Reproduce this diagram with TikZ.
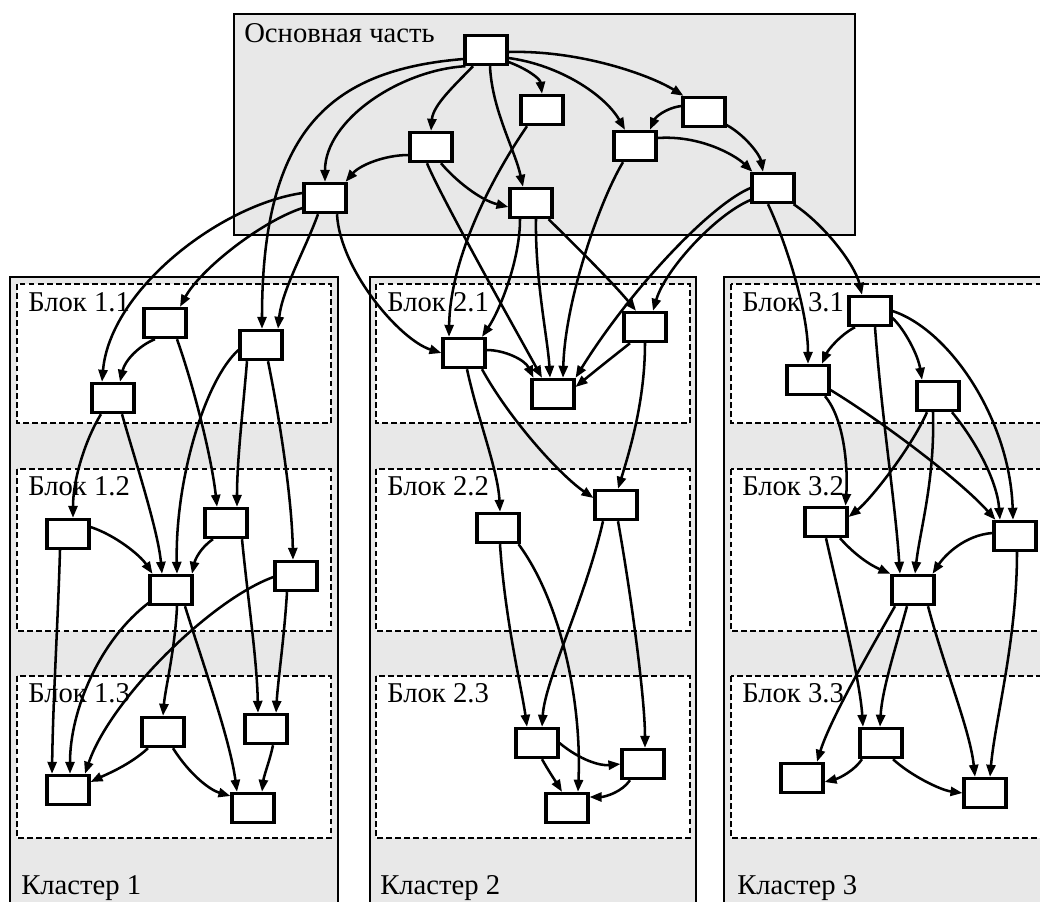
\documentclass[tikz,border=0pt]{standalone}
\usepackage{fontspec}
\setmainfont{Liberation Serif}
\usetikzlibrary{arrows.meta,calc}

\definecolor{panel}{HTML}{E8E8E8}

\begin{document}
\begin{tikzpicture}[x=0.75pt,y=-0.75pt,
  box/.style={draw, fill=white, line width=2.3pt, minimum width=31.5pt,
    minimum height=22pt, inner sep=0pt, outer sep=1.15pt},
  frame/.style={draw, fill=panel, line width=2.2pt},
  block/.style={draw, fill=white, line width=1.8pt, dash pattern=on 4.4pt off 2.4pt},
  lbl/.style={inner sep=0pt, anchor=base west, font=\fontsize{21.5}{24}\selectfont},
  arr/.style={line width=1.9pt, -{Triangle[length=9pt,width=6.8pt]}}]

\useasboundingbox (0,0) rectangle (1040,901);
\clip (0,0) rectangle (1040,901);

% ---- panels ----
\path[frame] (234,14) rectangle (855,235);
\node[lbl] (tMain) at (244,42) {Основная часть};

\path[frame] (10,277) rectangle (338,920);
\path[frame] (370,277) rectangle (696,920);
\path[frame] (724,277) rectangle (1060,920);

\foreach \xl/\xr/\xt/\c in {17/331/28/1, 376/690/387/2, 731/1060/742/3}{
  \path[block] (\xl,284) rectangle (\xr,423);
  \path[block] (\xl,469) rectangle (\xr,631);
  \path[block] (\xl,676) rectangle (\xr,838);
  \node[lbl] at (\xt,311) {Блок \c.1};
  \node[lbl] at (\xt,495) {Блок \c.2};
  \node[lbl] at (\xt,702) {Блок \c.3};
}
\node[lbl] (k1) at (21,894) {Кластер 1};
\node[lbl] (k2) at (380,894) {Кластер 2};
\node[lbl] (k3) at (737,894) {Кластер 3};

% ---- main part nodes ----
\node[box] (M0) at (486,50) {};
\node[box] (M1) at (542,110) {};
\node[box] (M2) at (431,147) {};
\node[box] (M3) at (325,198) {};
\node[box] (M4) at (531,203) {};
\node[box] (M5) at (635,146) {};
\node[box] (M6) at (704,112) {};
\node[box] (M7) at (773,188) {};

% ---- cluster 1 nodes ----
\node[box] (A1) at (165,323) {};
\node[box] (A2) at (261,345) {};
\node[box] (A3) at (113,398) {};
\node[box] (A4) at (68,534) {};
\node[box] (A5) at (226,523) {};
\node[box] (A6) at (171,590) {};
\node[box] (A7) at (296,576) {};
\node[box] (A8) at (163,732) {};
\node[box] (A9) at (266,729) {};
\node[box] (A10) at (68,790) {};
\node[box] (A11) at (253,808) {};

% ---- cluster 2 nodes ----
\node[box] (B1) at (464,353) {};
\node[box] (B2) at (553,394) {};
\node[box] (B3) at (645,327) {};
\node[box] (B4) at (498,528) {};
\node[box] (B5) at (616,505) {};
\node[box] (B6) at (537,743) {};
\node[box] (B7) at (643,764) {};
\node[box] (B8) at (567,808) {};

% ---- cluster 3 nodes ----
\node[box] (C1) at (870,311) {};
\node[box] (C2) at (808,380) {};
\node[box] (C3) at (938,396) {};
\node[box] (C4) at (826,522) {};
\node[box] (C5) at (1015,536) {};
\node[box] (C6) at (913,590) {};
\node[box] (C7) at (881,743) {};
\node[box] (C8) at (802,778) {};
\node[box] (C9) at (985,793) {};

% ---- edges inside the main part ----
\draw[arr] ($(M0.south west)+(2,0)$) .. controls (400,70) and (325,120) .. (M3.north);
\draw[arr] ($(M0.west)+(0,9)$) .. controls (330,70) and (262,130) .. ($(A2.north)+(1,0)$);
\draw[arr] ($(M0.south)+(-13,0)$) .. controls (455,85) and (433,105) .. (M2.north);
\draw[arr] ($(M0.east)+(0,12)$) .. controls (525,68) and (540,78) .. (M1.north);
\draw[arr] ($(M0.south)+(4,0)$) .. controls (492,110) and (515,150) .. ($(M4.north)+(-8,0)$);
\draw[arr] ($(M0.east)+(0,8)$) .. controls (560,65) and (605,95) .. ($(M5.north)+(-10,0)$);
\draw[arr] ($(M0.east)+(0,2)$) .. controls (580,50) and (650,75) .. ($(M6.north west)+(2,0)$);
\draw[arr] ($(M6.west)+(0,-6)$) .. controls (665,108) and (655,118) .. ($(M5.north)+(15,0)$);
\draw[arr] ($(M6.east)+(0,13)$) .. controls (745,135) and (760,155) .. ($(M7.north)+(-10,0)$);
\draw[arr] ($(M5.east)+(0,-8)$) .. controls (700,135) and (735,155) .. ($(M7.north west)+(2,0)$);
\draw[arr] ($(M2.west)+(0,8)$) .. controls (385,155) and (360,165) .. ($(M3.north east)+(-2,0)$);
\draw[arr] ($(M2.south)+(10,0)$) .. controls (455,180) and (480,200) .. ($(M4.west)+(0,4)$);

% ---- edges leaving the main part ----
\draw[arr] ($(M1.south)+(-15,0)$) .. controls (490,180) and (450,260) .. ($(B1.north)+(-15,0)$);
\draw[arr] ($(M2.south)+(-4,0)$) .. controls (440,195) and (510,320) .. ($(B2.north)+(-11,0)$);
\draw[arr] ($(M4.south)+(-11,0)$) .. controls (520,260) and (500,310) .. ($(B1.north)+(18,0)$);
\draw[arr] ($(M4.south)+(5,0)$) .. controls (535,280) and (548,340) .. ($(B2.north)+(-3,0)$);
\draw[arr] ($(M4.south east)+(-5,0)$) .. controls (575,245) and (615,285) .. ($(B3.north)+(-9,0)$);
\draw[arr] ($(M5.south)+(-12,0)$) .. controls (600,200) and (565,300) .. ($(B2.north)+(10,0)$);
\draw[arr] (M7.west) .. controls (710,205) and (630,290) .. (B2.north east);
\draw[arr] ($(M7.west)+(0,12)$) .. controls (715,215) and (665,270) .. ($(B3.north)+(8,0)$);
\draw[arr] ($(M7.south)+(-5,0)$) .. controls (785,240) and (808,310) .. (C2.north);
\draw[arr] ($(M7.south east)+(-2,0)$) .. controls (825,225) and (855,265) .. ($(C1.north)+(-8,0)$);
\draw[arr] ($(M3.west)+(0,-5)$) .. controls (220,205) and (110,290) .. ($(A3.north)+(-11,0)$);
\draw[arr] ($(M3.south)+(-7,0)$) .. controls (305,250) and (282,290) .. ($(A2.north)+(17,0)$);
\draw[arr] ($(M3.west)+(0,10)$) .. controls (260,222) and (200,270) .. ($(A1.north)+(15,0)$);
\draw[arr] ($(M3.south)+(12,0)$) .. controls (340,270) and (400,340) .. (B1.west);

% ---- cluster 1 edges ----
\draw[arr] ($(A1.south)+(-10,0)$) .. controls (140,345) and (125,360) .. ($(A3.north)+(7,0)$);
\draw[arr] ($(A1.south)+(12,0)$) .. controls (195,390) and (212,460) .. ($(A5.north)+(-9,0)$);
\draw[arr] ($(A2.west)+(0,5)$) .. controls (205,380) and (175,480) .. ($(A6.north)+(6,0)$);
\draw[arr] ($(A2.south)+(-14,0)$) .. controls (243,410) and (237,460) .. ($(A5.north)+(11,0)$);
\draw[arr] ($(A2.south)+(7,0)$) .. controls (280,420) and (292,500) .. ($(A7.north)+(-3,0)$);
\draw[arr] ($(A3.south)+(-12,0)$) .. controls (85,440) and (73,480) .. ($(A4.north)+(5,0)$);
\draw[arr] ($(A3.south)+(9,0)$) .. controls (135,460) and (158,530) .. ($(A6.north)+(-9,0)$);
\draw[arr] ($(A4.east)+(0,-7)$) .. controls (115,535) and (140,555) .. ($(A6.north west)+(4,0)$);
\draw[arr] ($(A5.south)+(-13,0)$) .. controls (200,548) and (195,560) .. ($(A6.north)+(21,0)$);
\draw[arr] ($(A4.south)+(-8,0)$) .. controls (58,620) and (53,700) .. ($(A10.north)+(-16,0)$);
\draw[arr] ($(A5.south)+(16,0)$) .. controls (248,600) and (257,660) .. ($(A9.north)+(-8,0)$);
\draw[arr] ($(A7.south)+(-9,0)$) .. controls (284,640) and (278,680) .. ($(A9.north)+(10,0)$);
\draw[arr] ($(A7.west)+(0,1)$) .. controls (210,600) and (110,700) .. ($(A10.north)+(17,0)$);
\draw[arr] ($(A6.west)+(0,13)$) .. controls (100,640) and (70,710) .. ($(A10.north)+(2,0)$);
\draw[arr] ($(A6.south)+(6,0)$) .. controls (175,650) and (165,690) .. (A8.north);
\draw[arr] ($(A6.south)+(14,0)$) .. controls (205,670) and (230,740) .. ($(A11.north)+(-16,0)$);
\draw[arr] ($(A8.south)+(-15,0)$) .. controls (130,765) and (105,775) .. ($(A10.east)+(0,-8)$);
\draw[arr] ($(A8.south)+(10,0)$) .. controls (190,775) and (210,790) .. ($(A11.west)+(0,-12)$);
\draw[arr] ($(A9.south)+(7,0)$) .. controls (270,760) and (264,775) .. ($(A11.north)+(9,0)$);

% ---- cluster 2 edges ----
\draw[arr] ($(B1.east)+(0,-3)$) .. controls (505,350) and (525,360) .. ($(B2.north west)+(3,0)$);
\draw[arr] ($(B3.south)+(-15,0)$) .. controls (615,355) and (590,375) .. ($(B2.east)+(0,-7)$);
\draw[arr] ($(B1.south)+(3,0)$) .. controls (478,420) and (498,470) .. ($(B4.north)+(2,0)$);
\draw[arr] ($(B1.south)+(18,0)$) .. controls (510,420) and (560,475) .. ($(B5.west)+(0,-7)$);
\draw[arr] (B3.south) .. controls (645,400) and (630,450) .. ($(B5.north)+(2,0)$);
\draw[arr] ($(B4.south)+(2,0)$) .. controls (505,620) and (522,690) .. ($(B6.north)+(-10,0)$);
\draw[arr] ($(B4.south east)+(-2,0)$) .. controls (560,600) and (582,700) .. ($(B8.north)+(11,0)$);
\draw[arr] ($(B5.south)+(-13,0)$) .. controls (585,600) and (545,680) .. ($(B6.north)+(5,0)$);
\draw[arr] ($(B5.south)+(2,0)$) .. controls (632,600) and (645,700) .. ($(B7.north)+(2,0)$);
\draw[arr] (B6.east) .. controls (580,760) and (600,766) .. (B7.west);
\draw[arr] ($(B6.south)+(5,0)$) .. controls (548,770) and (556,782) .. ($(B8.north)+(-5,0)$);
\draw[arr] ($(B7.south)+(-13,0)$) .. controls (622,792) and (605,797) .. ($(B8.east)+(0,-11)$);

% ---- cluster 3 edges ----
\draw[arr] ($(C1.south)+(-15,0)$) .. controls (840,335) and (828,350) .. ($(C2.north)+(14,0)$);
\draw[arr] ($(C1.east)+(0,7)$) .. controls (905,330) and (918,355) .. ($(C3.north)+(-16,0)$);
\draw[arr] (C1.east) .. controls (950,330) and (1010,420) .. ($(C5.north)+(-2,0)$);
\draw[arr] ($(C1.south)+(5,0)$) .. controls (882,420) and (895,500) .. ($(C6.north)+(-13,0)$);
\draw[arr] ($(C2.south)+(17,0)$) .. controls (845,420) and (848,470) .. ($(C4.north east)+(-3,0)$);
\draw[arr] ($(C2.east)+(0,10)$) .. controls (880,420) and (960,480) .. ($(C5.north west)+(3,0)$);
\draw[arr] ($(C3.south)+(-11,0)$) .. controls (910,450) and (870,500) .. ($(C4.east)+(0,-5)$);
\draw[arr] ($(C3.south)+(-5,0)$) .. controls (935,480) and (920,530) .. ($(C6.north)+(2,0)$);
\draw[arr] ($(C3.south)+(14,0)$) .. controls (975,440) and (997,480) .. ($(C5.north)+(-15,0)$);
\draw[arr] ($(C4.south)+(14,0)$) .. controls (855,555) and (870,565) .. (C6.north west);
\draw[arr] ($(C5.west)+(0,-3)$) .. controls (965,535) and (945,555) .. ($(C6.north east)+(-3,0)$);
\draw[arr] (C4.south) .. controls (840,600) and (860,680) .. ($(C7.north)+(-18,0)$);
\draw[arr] ($(C5.south)+(2,0)$) .. controls (1017,640) and (995,720) .. ($(C9.north)+(5,0)$);
\draw[arr] ($(C6.south)+(-18,0)$) .. controls (870,650) and (830,720) .. ($(C8.north)+(15,0)$);
\draw[arr] ($(C6.south)+(-6,0)$) .. controls (895,650) and (882,690) .. ($(C7.north)+(-1,0)$);
\draw[arr] ($(C6.south)+(15,0)$) .. controls (945,670) and (970,730) .. ($(C9.north)+(-10,0)$);
\draw[arr] ($(C7.south)+(-19,0)$) .. controls (855,770) and (840,778) .. ($(C8.east)+(0,4)$);
\draw[arr] ($(C7.south)+(12,0)$) .. controls (910,775) and (940,790) .. (C9.west);
\end{tikzpicture}
\end{document}
